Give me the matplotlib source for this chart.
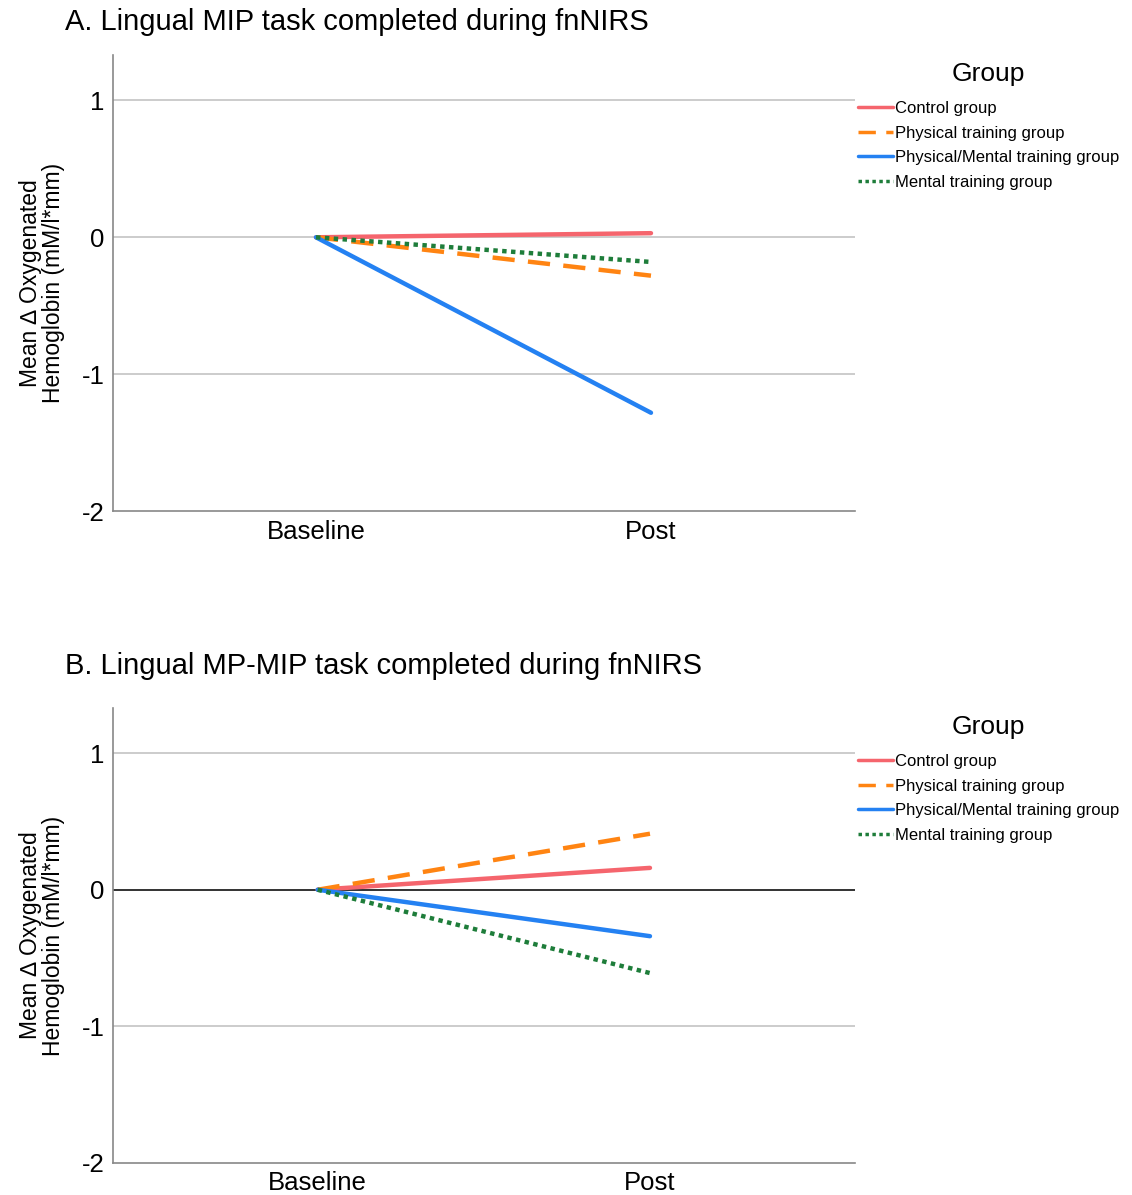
import matplotlib
matplotlib.use("Agg")
import matplotlib.pyplot as plt

plt.rcParams['font.family'] = ['Liberation Sans', 'DejaVu Sans']

timepoints = ['Baseline', 'Post']
groups = ['Control group', 'Physical training group',
          'Physical/Mental training group', 'Mental training group']

# mean change at Baseline / Post
panel_a = {
    'Control group': [0.0, 0.03],
    'Physical training group': [0.0, -0.28],
    'Physical/Mental training group': [0.0, -1.28],
    'Mental training group': [0.0, -0.18],
}
panel_b = {
    'Control group': [0.0, 0.16],
    'Physical training group': [0.0, 0.41],
    'Physical/Mental training group': [0.0, -0.34],
    'Mental training group': [0.0, -0.61],
}

colors = ['#f5656d', '#ff8412', '#2481f2', '#1e7d3a']
styles = ['-', (0, (5, 3)), '-', (0, (1, 1))]

titles = ['A. Lingual MIP task completed during fnNIRS',
          'B. Lingual MP-MIP task completed during fnNIRS']

fig = plt.figure(figsize=(11.32, 11.95), dpi=100)
ax_a = fig.add_axes([0.0998, 0.572, 0.6555, 0.382])
ax_b = fig.add_axes([0.0998, 0.0268, 0.6555, 0.3807])


def draw(ax, data, title, xlim, dark_zero, title_y):
    x = range(len(timepoints))
    for g, c, ls in zip(groups, colors, styles):
        ax.plot(x, data[g], color=c, linestyle=ls, lw=3.2, label=g,
                solid_capstyle='round', zorder=3)
    ax.set_ylim(-2, 1.33)
    ax.set_xlim(*xlim)
    ax.set_yticks([-2, -1, 0, 1])
    ax.set_yticklabels(['-2', '-1', '0', '1'])
    ax.set_xticks(list(x))
    ax.set_xticklabels(timepoints)
    ax.tick_params(length=0, labelsize=18.5, pad=6)
    for v in [-1, 0, 1]:
        col = '#222222' if (dark_zero and v == 0) else '#c8c8c8'
        ax.axhline(v, color=col, lw=1.3, zorder=1)
    for s in ['top', 'right']:
        ax.spines[s].set_visible(False)
    for s in ['left', 'bottom']:
        ax.spines[s].set_color('#888888')
        ax.spines[s].set_linewidth(1.2)
    ax.set_ylabel('Mean \u2206 Oxygenated\nHemoglobin (mM/l*mm)', fontsize=16.5,
                  labelpad=12, linespacing=1.0)
    ax.text(-0.0647, title_y, title, transform=ax.transAxes, fontsize=21,
            ha='left', va='bottom')
    leg = ax.legend(title='Group', loc='upper left', bbox_to_anchor=(0.995, 1.0),
                    frameon=False, fontsize=12, title_fontsize=19,
                    handlelength=2.1, handletextpad=0.1, labelspacing=0.58,
                    borderaxespad=0)
    leg._legend_box.sep = 11
    for line in leg.get_lines():
        line.set_linewidth(2.5)


draw(ax_a, panel_a, titles[0], (-0.606, 1.609), False, 1.042)
draw(ax_b, panel_b, titles[1], (-0.616, 1.617), True, 1.062)

fig.savefig('out.png', dpi=100)
